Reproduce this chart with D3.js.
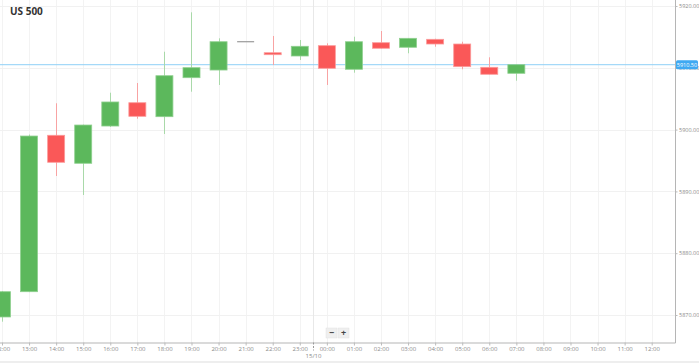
<!DOCTYPE html>
<html>
<head>
<meta charset="utf-8">
<script src="https://cdn.jsdelivr.net/npm/d3@7"></script>
<style>
  body { margin: 0; background: #fff; }
  svg { display: block; font-family: "Open Sans", Arial, sans-serif; }
</style>
</head>
<body>
<div id="chart"></div>
<script>
// hourly candles, 14/10 12:00 -> 15/10 07:00
const hours = ["12:00","13:00","14:00","15:00","16:00","17:00","18:00","19:00","20:00","21:00",
  "22:00","23:00","00:00","01:00","02:00","03:00","04:00","05:00","06:00","07:00"];
const open  = [5869.68,5873.77,5899.08,5894.55,5900.58,5904.35,5902.09,5908.40,5909.64,5914.22,
  5912.44,5911.91,5913.58,5909.76,5914.06,5913.32,5914.61,5913.85,5910.08,5909.11];
const high  = [5873.88,5899.20,5904.26,5900.80,5905.97,5907.54,5912.60,5918.98,5914.77,5914.22,
  5915.15,5914.50,5913.96,5915.03,5915.95,5914.82,5914.70,5914.22,5911.70,5910.55];
const low   = [5868.92,5873.70,5892.49,5889.42,5900.42,5901.76,5899.29,5906.13,5907.22,5914.22,
  5910.45,5911.26,5907.22,5909.21,5913.12,5912.35,5913.41,5909.76,5908.92,5907.91];
const close = [5873.77,5898.96,5894.71,5900.74,5904.47,5902.15,5908.72,5910.02,5914.22,5914.22,
  5912.12,5913.48,5909.92,5914.22,5913.16,5914.77,5913.85,5910.18,5908.95,5910.50];
const yTicks = [5870, 5880, 5890, 5900, 5910, 5920];
const lastPrice = 5910.50;
const title = "US 500";
const dayLabel = "15/10";

const width = 699, height = 363;
const plotRight = 675.5, axisY = 342.5;

const start = new Date(2019, 9, 14, 12);
const end = new Date(2019, 9, 15, 12);
const candles = hours.map((h, i) => ({
  t: d3.timeHour.offset(start, i), o: open[i], h: high[i], l: low[i], c: close[i]
}));

const x = d3.scaleTime().domain([start, end]).range([2, 651.7]);
const y = d3.scaleLinear().domain([5870, 5920]).range([315, 6]);

const svg = d3.select("#chart").append("svg")
  .attr("width", width).attr("height", height);

// bottom band
svg.append("rect").attr("x", 0).attr("y", 361).attr("width", width).attr("height", 2).attr("fill", "#eeeeee");

const hourTicks = d3.timeHour.range(start, d3.timeHour.offset(end, 1));

// grid
const grid = svg.append("g");
grid.selectAll("line.v").data(hourTicks).enter().append("line")
  .attr("x1", d => Math.round(x(d)) + 0.5).attr("x2", d => Math.round(x(d)) + 0.5)
  .attr("y1", 0).attr("y2", axisY)
  .attr("stroke", "#f3f3f3").attr("stroke-width", 1);
grid.selectAll("line.h").data(yTicks).enter().append("line")
  .attr("x1", 0).attr("x2", plotRight)
  .attr("y1", d => Math.round(y(d)) + 0.5).attr("y2", d => Math.round(y(d)) + 0.5)
  .attr("stroke", "#f1f1f1").attr("stroke-width", 1);

// day separator
const dayX = Math.round(x(new Date(2019, 9, 14, 23, 30))) + 0.5;
grid.append("line").attr("x1", dayX).attr("x2", dayX).attr("y1", 0).attr("y2", axisY)
  .attr("stroke", "#e8e8e8");

// title
svg.append("text").attr("x", 10).attr("y", 14.5).text(title)
  .attr("font-size", 10).attr("font-weight", "bold").attr("fill", "#333");

// last price line
svg.append("line").attr("x1", 0).attr("x2", plotRight)
  .attr("y1", y(lastPrice)).attr("y2", y(lastPrice))
  .attr("stroke", "#8fd0f7").attr("stroke-width", 1);

// candles
const bw = 17;
const cg = svg.append("g");
const up = d => d.c > d.o, flat = d => d.c === d.o;
const colour = d => flat(d) ? "#999" : (up(d) ? "#5cb85c" : "#fa5858");
const wickColour = d => flat(d) ? "#999" : (up(d) ? "#a9d9a9" : "#f8a3a3");

cg.selectAll("line.wick").data(candles).enter().append("line")
  .attr("x1", d => Math.round(x(d.t)) + 0.5).attr("x2", d => Math.round(x(d.t)) + 0.5)
  .attr("y1", d => y(d.h)).attr("y2", d => y(d.l))
  .attr("stroke", wickColour).attr("stroke-width", 1);

cg.selectAll("rect.body").data(candles.filter(d => !flat(d))).enter().append("rect")
  .attr("x", d => x(d.t) - bw / 2)
  .attr("y", d => y(Math.max(d.o, d.c)))
  .attr("width", bw)
  .attr("height", d => Math.max(1.5, Math.abs(y(d.o) - y(d.c))))
  .attr("fill", colour)
  .attr("stroke", d => up(d) ? "#8fd08f" : "#fb9a9a").attr("stroke-width", 0.8);

cg.selectAll("line.doji").data(candles.filter(flat)).enter().append("line")
  .attr("x1", d => x(d.t) - bw / 2).attr("x2", d => x(d.t) + bw / 2)
  .attr("y1", d => y(d.o)).attr("y2", d => y(d.o))
  .attr("stroke", "#999").attr("stroke-width", 1.2);

// right border
svg.append("line").attr("x1", plotRight).attr("x2", plotRight).attr("y1", 0).attr("y2", axisY + 0.5)
  .attr("stroke", "#b5b5b5");

// x axis
const xAxis = svg.append("g").attr("transform", `translate(0,${axisY})`)
  .call(d3.axisBottom(x).tickValues(hourTicks).tickSize(3).tickSizeOuter(0)
    .tickFormat(d3.timeFormat("%H:%M")));
xAxis.select(".domain").attr("stroke", "#b5b5b5").attr("d", `M0,0.5H${plotRight}`);
xAxis.selectAll(".tick line").attr("stroke", "#bbb");
xAxis.selectAll(".tick text").attr("font-size", 6).attr("fill", "#8a8a8a")
  .attr("y", 4).attr("font-family", "Open Sans, Arial, sans-serif");

svg.append("line").attr("x1", dayX).attr("x2", dayX).attr("y1", axisY).attr("y2", axisY + 8)
  .attr("stroke", "#999").attr("stroke-dasharray", "2,1.5");
svg.append("text").attr("x", dayX).attr("y", 358).attr("text-anchor", "middle")
  .attr("font-size", 6).attr("fill", "#8a8a8a").text(dayLabel);

// y axis
const yAxis = svg.append("g").attr("transform", `translate(${plotRight},0)`)
  .call(d3.axisRight(y).tickValues(yTicks).tickSize(2).tickFormat(d3.format(".2f")));
yAxis.select(".domain").remove();
yAxis.selectAll(".tick line").attr("stroke", "#bbb");
yAxis.selectAll(".tick text").attr("font-size", 5.5).attr("fill", "#8a8a8a")
  .attr("x", 3.5).attr("font-family", "Open Sans, Arial, sans-serif");

// last price label
const py = y(lastPrice);
svg.append("rect").attr("x", plotRight + 0.5).attr("y", py - 4.5).attr("width", 22).attr("height", 9)
  .attr("rx", 1.5).attr("fill", "#3fa9f2");
svg.append("text").attr("x", plotRight + 11.5).attr("y", py + 2).attr("text-anchor", "middle")
  .attr("font-size", 5.5).attr("fill", "#fff").text(d3.format(".2f")(lastPrice));

// zoom buttons
const btns = [{ s: "\u2212", cx: 331.5 }, { s: "+", cx: 343.5 }];
const bg = svg.append("g");
bg.selectAll("rect").data(btns).enter().append("rect")
  .attr("x", d => d.cx - 5.5).attr("y", 328).attr("width", 11).attr("height", 10)
  .attr("fill", "#efefef").attr("stroke", "#e2e2e2").attr("stroke-width", 0.5);
bg.selectAll("text").data(btns).enter().append("text")
  .attr("x", d => d.cx).attr("y", 336).attr("text-anchor", "middle")
  .attr("font-size", 9).attr("font-weight", "bold").attr("fill", "#444").text(d => d.s);
</script>
</body>
</html>
